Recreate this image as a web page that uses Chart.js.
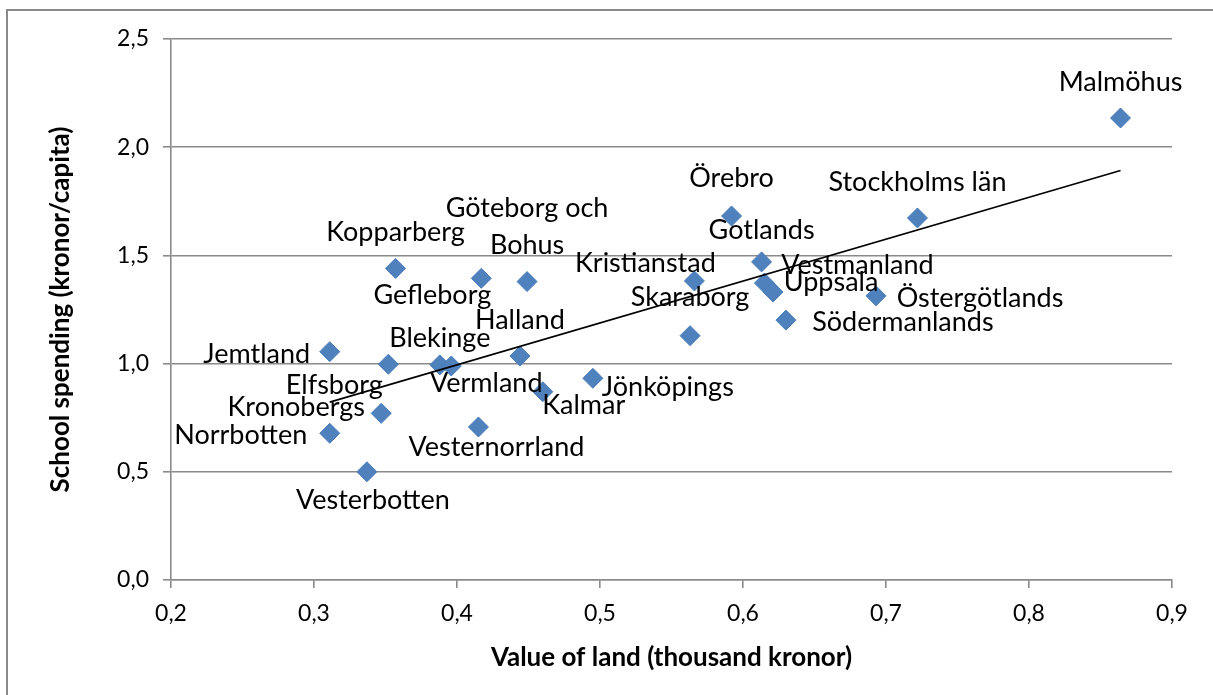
<!DOCTYPE html>
<html>
<head>
<meta charset="utf-8">
<script src="https://cdn.jsdelivr.net/npm/chart.js@4/dist/chart.umd.min.js"></script>
<style>
  html, body { margin: 0; padding: 0; background: #fff; }
  #wrap { width: 1213px; height: 695px; position: relative; }
</style>
</head>
<body>
<div id="wrap"><canvas id="c" width="1213" height="695"></canvas></div>
<script>
// ---- data ----
const counties = ["Malmöhus", "Stockholms län", "Örebro", "Gotlands", "Vestmanland", "Uppsala",
  "Södermanlands", "Östergötlands", "Kristianstad", "Skaraborg", "Jönköpings", "Kopparberg",
  "Gefleborg", "Göteborg och\nBohus", "Halland", "Blekinge", "Vermland", "Elfsborg",
  "Jemtland", "Kronobergs", "Norrbotten", "Vesterbotten", "Kalmar", "Vesternorrland"];
const landValue = [0.864, 0.722, 0.592, 0.613, 0.615, 0.621,
  0.630, 0.693, 0.566, 0.563, 0.495, 0.357,
  0.417, 0.449, 0.444, 0.388, 0.396, 0.352,
  0.311, 0.347, 0.311, 0.337, 0.460, 0.415];
const schoolSpending = [2.135, 1.673, 1.682, 1.470, 1.372, 1.331,
  1.201, 1.313, 1.382, 1.129, 0.932, 1.440,
  1.394, 1.379, 1.035, 0.994, 0.989, 0.997,
  1.055, 0.770, 0.678, 0.500, 0.870, 0.707];
const xTicks = [0.2, 0.3, 0.4, 0.5, 0.6, 0.7, 0.8, 0.9];
const yTicks = [0.0, 0.5, 1.0, 1.5, 2.0, 2.5];

// label placement (pixel offsets of label centre from its marker) - style only
const labelOffsets = [[0,-36],[0,-36],[0,-38],[0,-32],[93,-18],[58,-10],
  [117,2],[104,2],[-49,-18],[0,-38],[75,9],[0,-36],
  [-49,17],[0,-55],[0,-36],[0,-27],[35,17],[-54,21],
  [-73,3],[-85,-6],[-89,2],[6,28],[41,14],[18,20]];

// ---- least-squares trendline ----
const n = landValue.length;
const mx = landValue.reduce((a,b)=>a+b,0)/n;
const my = schoolSpending.reduce((a,b)=>a+b,0)/n;
let sxy = 0, sxx = 0;
for (let i=0;i<n;i++){ sxy += (landValue[i]-mx)*(schoolSpending[i]-my); sxx += (landValue[i]-mx)**2; }
const slope = sxy/sxx, icpt = my - slope*mx;
const xMin = Math.min(...landValue), xMax = Math.max(...landValue);
const trend = [{x:xMin, y:icpt+slope*xMin},{x:xMax, y:icpt+slope*xMax}];

const points = landValue.map((x,i)=>({x, y: schoolSpending[i]}));
const fmt = v => Number(v).toFixed(1).replace('.', ',');
const FONT = "Lato, 'Open Sans', sans-serif";

const frame = {
  id: 'frame',
  beforeDraw(chart){
    const ctx = chart.ctx;
    ctx.save();
    ctx.fillStyle = '#fff';
    ctx.fillRect(0,0,chart.width,chart.height);
    ctx.strokeStyle = '#8a8a8a';
    ctx.lineWidth = 2;
    ctx.beginPath();
    ctx.moveTo(7, chart.height+5);
    ctx.lineTo(7, 10);
    ctx.lineTo(chart.width+5, 10);
    ctx.stroke();
    ctx.restore();
  }
};

const labels = {
  id: 'pointLabels',
  afterDatasetsDraw(chart){
    const ctx = chart.ctx;
    const xs = chart.scales.x, ys = chart.scales.y;
    ctx.save();
    ctx.fillStyle = '#000';
    ctx.font = "27px " + FONT;
    ctx.textAlign = 'center';
    ctx.textBaseline = 'middle';
    counties.forEach((name,i)=>{
      const px = xs.getPixelForValue(landValue[i]);
      const py = ys.getPixelForValue(schoolSpending[i]);
      const [dx,dy] = labelOffsets[i];
      const lines = name.split('\n');
      const lh = 37;
      lines.forEach((ln,k)=>{
        ctx.fillText(ln, px+dx, py+dy + (k-(lines.length-1)/2)*lh);
      });
    });
    ctx.restore();
  }
};

new Chart(document.getElementById('c'), {
  type: 'scatter',
  data: {
    datasets: [
      {
        type: 'line',
        data: trend,
        borderColor: '#000',
        borderWidth: 1.6,
        pointRadius: 0,
        fill: false,
        order: 0
      },
      {
        data: points,
        pointStyle: 'rectRot',
        pointRadius: 10,
        pointHoverRadius: 10,
        backgroundColor: '#4F81BD',
        borderColor: '#4A7EBB',
        borderWidth: 1,
        order: 1
      }
    ]
  },
  options: {
    responsive: false,
    animation: false,
    layout: { padding: { left: 0, top: 39, right: 41, bottom: 0 } },
    plugins: { legend: { display: false }, tooltip: { enabled: false } },
    scales: {
      x: {
        type: 'linear',
        min: 0.2, max: 0.9,
        afterBuildTicks: s => { s.ticks = xTicks.map(v=>({value:v})); },
        afterFit: s => { s.height = 115; },
        ticks: { callback: fmt, font: { family: FONT, size: 23 }, color: '#000', padding: 12, maxRotation: 0 },
        grid: { drawOnChartArea: false, drawTicks: true, tickLength: 8, color: '#8a8a8a', lineWidth: 1.6 },
        border: { color: '#8a8a8a', width: 1.6 },
        title: { display: true, text: 'Value of land (thousand kronor)', color: '#000',
                 font: { family: FONT, size: 26, weight: 'bold' }, padding: { top: 0, bottom: 22 } }
      },
      y: {
        type: 'linear',
        min: 0, max: 2.5,
        afterBuildTicks: s => { s.ticks = yTicks.map(v=>({value:v})); },
        afterFit: s => { s.width = 171; },
        ticks: { callback: fmt, font: { family: FONT, size: 23 }, color: '#000', padding: 14 },
        grid: { drawOnChartArea: true, drawTicks: true, tickLength: 8, color: '#8a8a8a', lineWidth: 1.6 },
        border: { color: '#8a8a8a', width: 1.6 },
        title: { display: true, text: 'School spending (kronor/capita)', color: '#000',
                 font: { family: FONT, size: 26, weight: 'bold' }, padding: { top: 45, bottom: 0 } }
      }
    }
  },
  plugins: [frame, labels]
});
</script>
</body>
</html>
